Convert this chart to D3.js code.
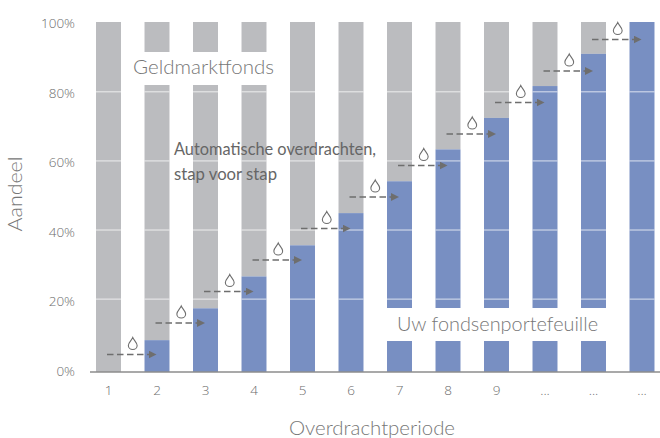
<!DOCTYPE html>
<html>
<head>
<meta charset="utf-8">
<script src="https://cdn.jsdelivr.net/npm/d3@7"></script>
<style>
  html, body { margin: 0; padding: 0; background: #fff; }
  svg { display: block; }
</style>
</head>
<body>
<div id="chart"></div>
<script>
// Overdrachtperiode: share of the portfolio, step by step
const PERIODS = ["1", "2", "3", "4", "5", "6", "7", "8", "9", "... ", "...  ", "...   "];
const PORTFOLIO = [0, 9.1, 18.2, 27.3, 36.2, 45.4, 54.5, 63.6, 72.6, 81.7, 90.9, 100];
const ARROW_LEVELS = [5, 14, 23, 32, 41, 50, 59, 68, 77, 86, 95];
const Y_TICKS = [0, 20, 40, 60, 80, 100];
const GRID_TICKS = [20, 40, 60, 80];

const GREY = "#bbbcbf", BLUE = "#788fc2", TEXT = "#777", TICK = "#6c6c6c", ARROW = "#6e6e6e";
const FONT = "Lato, sans-serif", TICK_FONT = "'Open Sans', sans-serif";

const W = 660, H = 438;
const svg = d3.select("#chart").append("svg").attr("width", W).attr("height", H)
  .style("font-family", FONT);

/* ── Scales ── */
const x = d3.scaleBand().domain(PERIODS).range([84.25, 666.25]).paddingInner(0.485).paddingOuter(0.2425);
const y = d3.scaleLinear().domain([0, 100]).range([372, 22]);
// the light gridlines and tick labels sit slightly off the bar scale in the original
const yGrid = d3.scaleLinear().domain([0, 100]).range([368.3, 22.6]);
const yLabel = d3.scaleLinear().domain([0, 100]).range([371, 23.5]);
const cx = i => x(PERIODS[i]) + x.bandwidth() / 2;

/* ── Bars ── */
svg.append("g").selectAll("rect").data(PERIODS).join("rect")
  .attr("x", d => x(d)).attr("width", x.bandwidth())
  .attr("y", y(100))
  .attr("height", (d, i) => y(PORTFOLIO[i]) - y(100))
  .attr("fill", GREY);

svg.append("g").selectAll("rect").data(PERIODS).join("rect")
  .attr("x", d => x(d)).attr("width", x.bandwidth())
  .attr("y", (d, i) => y(PORTFOLIO[i]))
  .attr("height", (d, i) => y(0) - y(PORTFOLIO[i]))
  .attr("fill", BLUE);

/* ── Grid, only visible across the bars ── */
GRID_TICKS.forEach(t => {
  svg.append("g").selectAll("line").data(PERIODS).join("line")
    .attr("x1", d => x(d)).attr("x2", d => x(d) + x.bandwidth())
    .attr("y1", yGrid(t)).attr("y2", yGrid(t))
    .attr("stroke", "#fff").attr("stroke-opacity", 0.5).attr("stroke-width", 1.5);
});

/* ── White label boxes cut through the bars ── */
svg.append("rect").attr("x", x(PERIODS[1]) - 10).attr("width", x(PERIODS[3]) + x.bandwidth() - x(PERIODS[1]) + 20)
  .attr("y", 52).attr("height", 33).attr("fill", "#fff");
svg.append("rect").attr("x", x(PERIODS[6]) - 10).attr("width", x(PERIODS[10]) + x.bandwidth() - x(PERIODS[6]) + 20)
  .attr("y", 308).attr("height", 33).attr("fill", "#fff");

/* ── Axes ── */
const axisX = svg.append("g").attr("transform", `translate(0,${y(0)})`)
  .call(d3.axisBottom(x).tickSize(0).tickPadding(13));
axisX.select(".domain").remove();
axisX.selectAll("text").attr("font-size", 13.5).attr("font-family", TICK_FONT).attr("font-weight", 300).attr("fill", TICK);

svg.append("line").attr("x1", 90).attr("x2", 660).attr("y1", y(0)).attr("y2", y(0))
  .attr("stroke", "#8c8c8c").attr("stroke-width", 1.5);

const axisY = svg.append("g").attr("transform", "translate(75,0)")
  .call(d3.axisLeft(yLabel).tickValues(Y_TICKS).tickSize(0).tickPadding(0).tickFormat(d => d + "%"));
axisY.select(".domain").remove();
axisY.selectAll("text").attr("font-size", 13.5).attr("font-family", TICK_FONT).attr("font-weight", 300).attr("fill", TICK);

/* ── Step arrows + drops ── */
svg.append("defs").append("marker").attr("id", "head")
  .attr("viewBox", "0 0 8 8").attr("refX", 7).attr("refY", 4)
  .attr("markerWidth", 8).attr("markerHeight", 8).attr("markerUnits", "userSpaceOnUse")
  .attr("orient", "auto")
  .append("path").attr("d", "M0,0L8,4L0,8Z").attr("fill", ARROW);

const steps = svg.append("g").selectAll("g").data(ARROW_LEVELS).join("g")
  .attr("transform", d => `translate(0,${y(d)})`);

steps.append("line")
  .attr("x1", (d, i) => cx(i) - 1.5).attr("x2", (d, i) => cx(i + 1) - 1.5)
  .attr("stroke", ARROW).attr("stroke-width", 1.5)
  .attr("stroke-dasharray", "6.5 3.5")
  .attr("marker-end", "url(#head)");

steps.append("path")
  .attr("transform", (d, i) => `translate(${(cx(i) + cx(i + 1)) / 2},-11)`)
  .attr("d", "M0,-6C1,-3.5 4.4,-0.8 4.4,1.9A4.4,4.1 0 0 1 -4.4,1.9C-4.4,-0.8 -1,-3.5 0,-6Z")
  .attr("fill", "#fff").attr("stroke", ARROW).attr("stroke-width", 1.1);

/* ── Labels ── */
const label = (txt, px, py, size, len, opts = {}) => svg.append("text")
  .attr("x", px).attr("y", py).attr("font-size", size)
  .attr("font-weight", opts.weight || 300)
  .attr("fill", opts.fill || TEXT)
  .attr("text-anchor", opts.anchor || "start")
  .attr("transform", opts.transform || null)
  .attr("textLength", len).attr("lengthAdjust", "spacingAndGlyphs")
  .text(txt);

label("Geldmarktfonds", 133, 74, 20, 141);
label("Uw fondsenportefeuille", 397, 331, 20, 201);
label("Automatische overdrachten,", 174, 155, 17, 202, { weight: 400, fill: "#666" });
label("stap voor stap", 174, 180, 17, 103, { weight: 400, fill: "#666" });
label("Overdrachtperiode", 372, 435, 19, 166, { anchor: "middle" });
label("Aandeel", 0, 0, 19, 75, { anchor: "middle", transform: "translate(22,194) rotate(-90)" });
</script>
</body>
</html>
